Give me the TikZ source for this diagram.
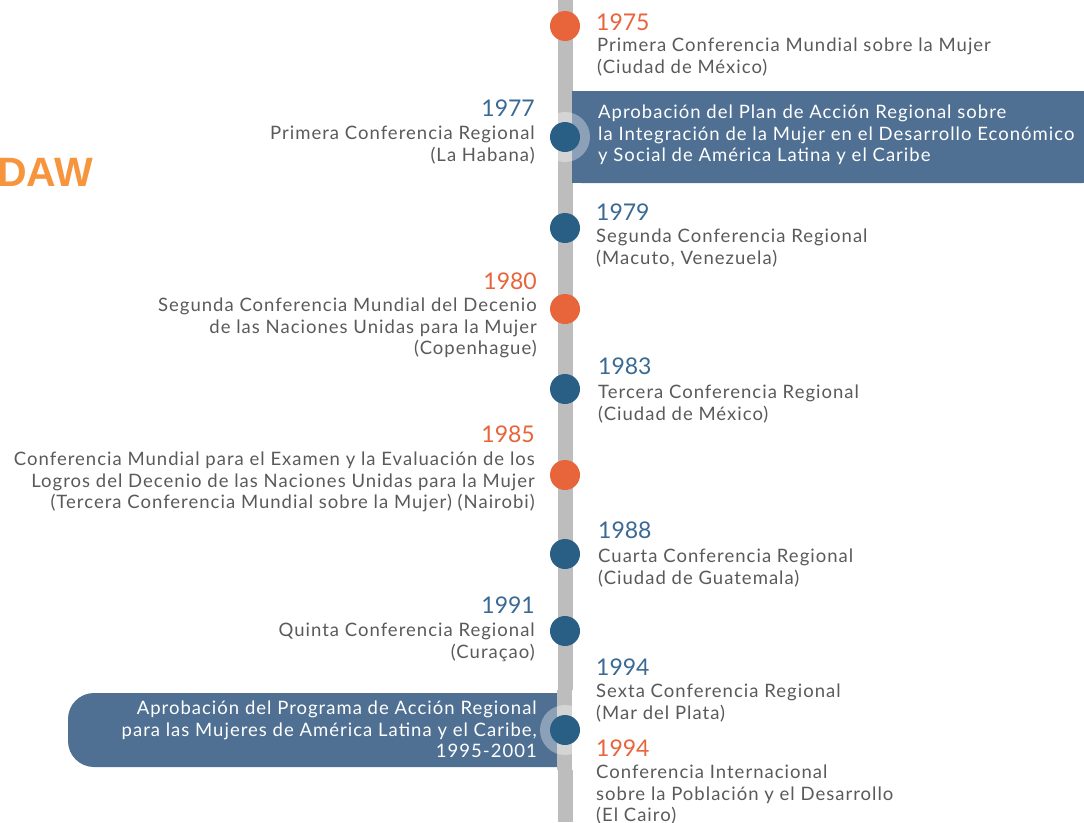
\documentclass[tikz,border=0pt]{standalone}
\usepackage{fontspec}
\setmainfont{Lato}
\newfontfamily\descfont{Lato}[LetterSpace=5.5]
\newfontfamily\dawfont{Liberation Sans}
\definecolor{bar}{HTML}{BDBDBD}
\definecolor{dotblue}{HTML}{2A5F85}
\definecolor{dotorange}{HTML}{E8643A}
\definecolor{yearblue}{HTML}{3A6A94}
\definecolor{band}{HTML}{4F7092}
\definecolor{txt}{HTML}{5A5A5A}
\definecolor{daw}{HTML}{F7953F}
\tikzset{
  dotb/.style={circle,fill=dotblue,minimum size=30pt,inner sep=0},
  doto/.style={circle,fill=dotorange,minimum size=30pt,inner sep=0},
  halo/.style={circle,fill=white,fill opacity=0.35,minimum size=50pt,inner sep=0},
  yearR/.style={anchor=north west,inner sep=0,font=\fontsize{23}{26}\selectfont},
  yearL/.style={anchor=north east,inner sep=0,font=\fontsize{23}{26}\selectfont},
  descR/.style={anchor=north west,inner sep=0,align=left,text=txt,font=\descfont\fontsize{18.5}{21.5}\selectfont},
  descL/.style={anchor=north east,inner sep=0,align=right,text=txt,font=\descfont\fontsize{18.5}{21.5}\selectfont},
}
\begin{document}
\begin{tikzpicture}[x=1pt,y=-1pt]
\useasboundingbox (0,0) rectangle (1084,822);
\fill[white] (0,0) rectangle (1084,822);
% timeline bar
\coordinate (top) at (565,0);
\coordinate (bot) at (565,822);
\draw[bar,line width=15pt] (top) -- (bot);
% banners
\fill[band,rounded corners=9pt] (572,91) rectangle (1092,183);
\fill[band] (572,91) rectangle (600,183);
\fill[band,rounded corners=26pt] (68,693) rectangle (590,767);
\fill[white] (572,690) rectangle (600,770);
\fill[bar] (557,690) rectangle (572,770);
% halos
\node[halo] (h77) at (565,137) {};
\node[halo] (h94) at (565,730) {};
% dots
\node[doto] (d75) at (565,26) {};
\node[dotb] (d77) at (565,137) {};
\node[dotb] (d79) at (565,228) {};
\node[doto] (d80) at (565,309) {};
\node[dotb] (d83) at (565,389) {};
\node[doto] (d85) at (565,475) {};
\node[dotb] (d88) at (565,554) {};
\node[dotb] (d91) at (565,631) {};
\node[dotb] (d94) at (565,730) {};
% DAW
\node[anchor=west,inner sep=0,text=daw,font=\dawfont\bfseries\fontsize{41}{43}\selectfont] (daw) at (-3,172) {DAW};
% 1975
\node[yearR,text=dotorange] (y75) at (596,13.5) {1975};
\node[descR] (t75) at (597,38) {Primera Conferencia Mundial sobre la Mujer\\(Ciudad de México)};
% 1977
\node[yearL,text=yearblue] (y77) at (535,100) {1977};
\node[descL] (t77) at (535,126) {Primera Conferencia Regional\\(La Habana)};
\node[descR,text=white] (b77) at (598,105) {Aprobación del Plan de Acción Regional sobre\\la Integración de la Mujer en el Desarrollo Económico\\y Social de América Latina y el Caribe};
% 1979
\node[yearR,text=yearblue] (y79) at (596,204) {1979};
\node[descR] (t79) at (596,229) {Segunda Conferencia Regional\\(Macuto, Venezuela)};
% 1980
\node[yearL,text=dotorange] (y80) at (537,273) {1980};
\node[descL] (t80) at (537,298) {Segunda Conferencia Mundial del Decenio\\de las Naciones Unidas para la Mujer\\(Copenhague)};
% 1983
\node[yearR,text=yearblue] (y83) at (598,358) {1983};
\node[descR] (t83) at (598,385) {Tercera Conferencia Regional\\(Ciudad de México)};
% 1985
\node[yearL,text=dotorange] (y85) at (535,426) {1985};
\node[descL] (t85) at (535,452) {Conferencia Mundial para el Examen y la Evaluación de los\\Logros del Decenio de las Naciones Unidas para la Mujer\\(Tercera Conferencia Mundial sobre la Mujer) (Nairobi)};
% 1988
\node[yearR,text=yearblue] (y88) at (598,522) {1988};
\node[descR] (t88) at (598,549) {Cuarta Conferencia Regional\\(Ciudad de Guatemala)};
% 1991
\node[yearL,text=yearblue] (y91) at (535,597) {1991};
\node[descL] (t91) at (535,623) {Quinta Conferencia Regional\\(Curaçao)};
% 1994 blue
\node[yearR,text=yearblue] (y94a) at (596,659) {1994};
\node[descR] (t94a) at (596,684) {Sexta Conferencia Regional\\(Mar del Plata)};
\node[descL,text=white] (b94) at (537,701) {Aprobación del Programa de Acción Regional\\para las Mujeres de América Latina y el Caribe,\\1995-2001};
% 1994 orange
\node[yearR,text=dotorange] (y94b) at (596,740) {1994};
\node[descR] (t94b) at (596,765) {Conferencia Internacional\\sobre la Población y el Desarrollo\\(El Cairo)};
\end{tikzpicture}
\end{document}
